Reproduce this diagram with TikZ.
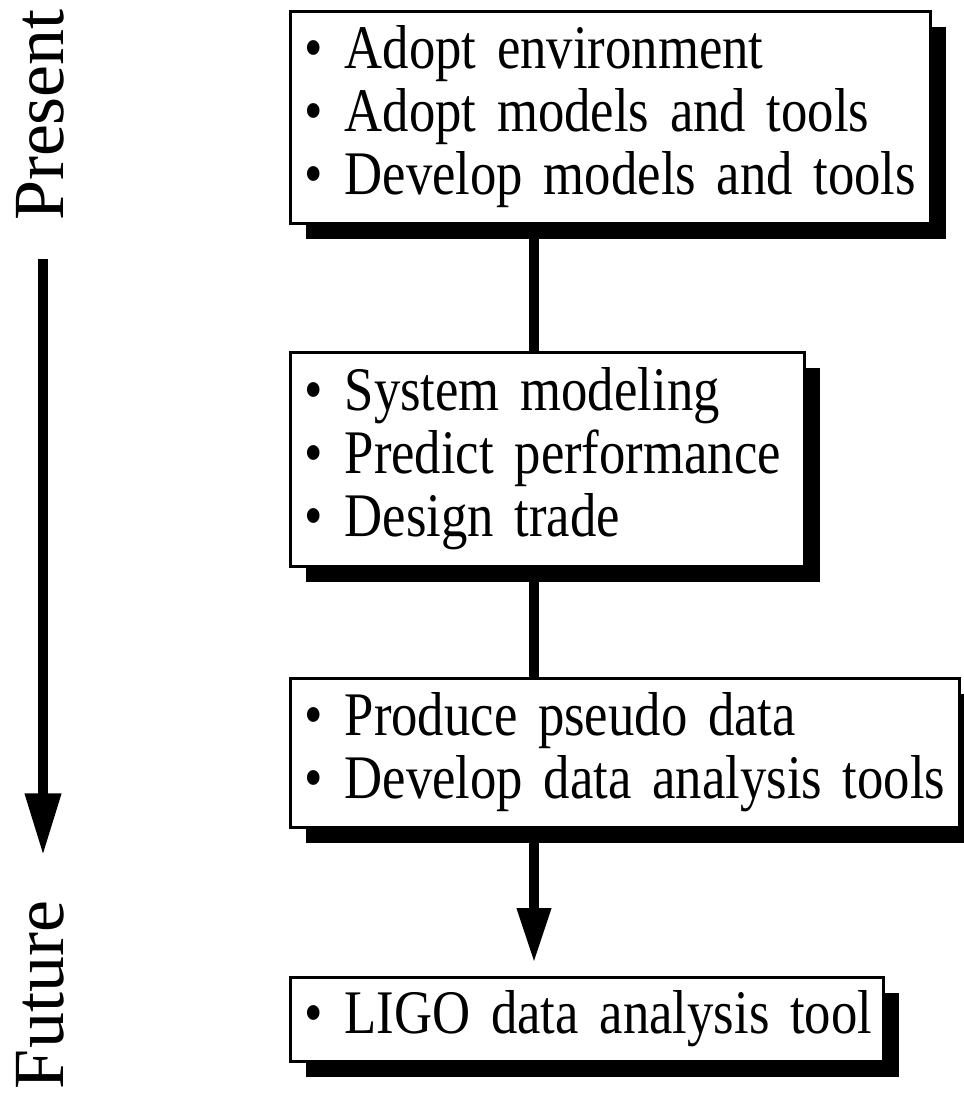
\documentclass[tikz,border=0pt]{standalone}
\usepackage{fontspec}
\setmainfont{Liberation Serif}
\newfontfamily\stagefont[FakeStretch=0.85,WordSpace=0.5]{Liberation Serif}
\usetikzlibrary{arrows.meta,shadows}
\newcommand{\stitem}[1]{\mbox{\textbullet\hspace{0.36em}#1}}

\begin{document}
\begin{tikzpicture}[x=1pt,y=-1pt,
  stage/.style={draw,line width=3pt,fill=white,anchor=north west,align=left,
    inner xsep=14pt,inner ysep=0pt,font=\stagefont\fontsize{62pt}{63pt}\selectfont,
    drop shadow={shadow xshift=16pt,shadow yshift=-16pt,fill=black,opacity=1}},
  epoch/.style={rotate=90,font=\fontsize{72pt}{80pt}\selectfont},
  link/.style={line width=10pt},
  flow/.style={line width=10pt,-{Triangle[length=55pt,width=32pt]}}]
  \useasboundingbox (0,0) rectangle (964,1093);
  \clip (0,0) rectangle (964,1093);
  \coordinate (spine) at (534,0);
  \node[epoch] (present) at (40,115) {Present};
  \node[epoch] (future) at (40,995) {Future};
  \draw[line width=10pt,-{Triangle[length=62pt,width=34pt]},
    shorten <=34pt,shorten >=42pt] ([xshift=3pt]present.west) -- ([xshift=3pt]future.east);
  \node[stage,text width=612pt,minimum height=212pt] (adopt) at (288.5,9.5)
    {\stitem{Adopt environment}\\ \stitem{Adopt models and tools}\\
     \stitem{Develop models and tools}};
  \node[stage,text width=486pt,minimum height=214pt] (model) at (288.5,350.5)
    {\stitem{System modeling}\\ \stitem{Predict performance}\\
     \stitem{Design trade}};
  \node[stage,text width=641pt,minimum height=149pt] (pseudo) at (288.5,676.5)
    {\stitem{Produce pseudo data}\\ \stitem{Develop data analysis tools}};
  \node[stage,text width=565pt,minimum height=84pt] (ligo) at (288.5,975.5)
    {\stitem{LIGO data analysis tool}};
  \draw[link] (adopt.south -| spine) -- (model.north -| spine);
  \draw[link] (model.south -| spine) -- (pseudo.north -| spine);
  \draw[flow,shorten >=12.5pt] (pseudo.south -| spine) -- (ligo.north -| spine);
\end{tikzpicture}
\end{document}
